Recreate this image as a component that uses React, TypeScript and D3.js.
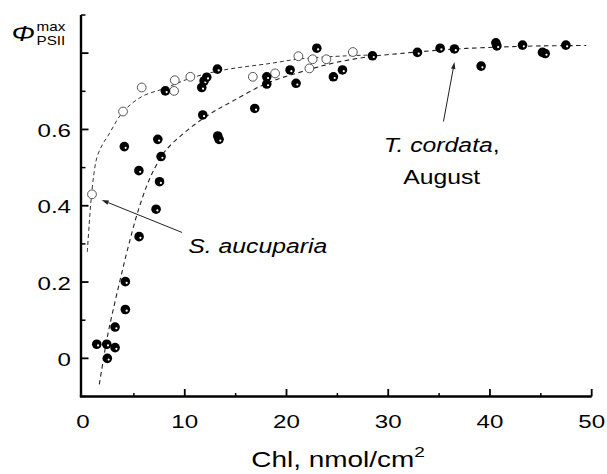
import React from "react";
import * as d3 from "d3";

// S. aucuparia (open circles): [Chl, PhiPSII max]
const aucupariaX = [0.88, 3.93, 5.77, 9.02, 8.95, 10.55, 16.69, 18.88, 21.17, 22.25, 22.57, 23.92, 26.52];
const aucupariaY = [0.43, 0.647, 0.71, 0.729, 0.701, 0.738, 0.738, 0.747, 0.792, 0.76, 0.784, 0.784, 0.803];

// T. cordata, August (filled circles)
const cordataX = [1.35, 2.33, 2.39, 3.15, 3.15, 4.16, 4.16, 5.51, 7.18, 7.52, 5.49, 7.67, 4.06, 7.35, 8.09,
  11.77, 13.24, 13.37, 11.67, 11.9, 12.16, 13.21, 16.88, 18.06, 18.06, 20.35, 20.94, 22.98, 24.61, 25.5,
  28.45, 32.87, 35.1, 36.51, 39.13, 40.58, 40.68, 43.2, 45.16, 45.43, 47.46];
const cordataY = [0.037, 0.037, 0.0, 0.028, 0.082, 0.128, 0.201, 0.319, 0.391, 0.463, 0.492, 0.529, 0.555, 0.574, 0.701,
  0.638, 0.583, 0.574, 0.71, 0.727, 0.737, 0.758, 0.655, 0.738, 0.719, 0.756, 0.721, 0.813, 0.738, 0.756,
  0.793, 0.802, 0.813, 0.811, 0.766, 0.827, 0.819, 0.821, 0.802, 0.799, 0.821];

// fitted curves
const aucupariaFitX = [0.42, 0.6, 0.79, 1.05, 1.38, 1.9, 2.49, 3.9, 5.77, 8.06, 10.52, 13.64, 18.39, 21.34, 25.93, 28.4];
const aucupariaFitY = [0.279, 0.35, 0.415, 0.48, 0.528, 0.56, 0.585, 0.645, 0.686, 0.708, 0.734, 0.755, 0.773, 0.785, 0.793, 0.795];
const cordataFitX = [1.6, 2.33, 2.65, 3.64, 4.45, 5.28, 6.26, 7.08, 8.06, 10.03, 12.32, 14.62, 18.06, 22.09, 24.95, 28.22, 31.17, 36.1, 41.0, 45.0, 49.46];
const cordataFitY = [-0.068, 0.048, 0.09, 0.205, 0.293, 0.375, 0.452, 0.5, 0.543, 0.593, 0.638, 0.673, 0.721, 0.756, 0.776, 0.791, 0.799, 0.81, 0.816, 0.819, 0.82];

const xMajorTicks = [10, 20, 30, 40, 50];
const xMinorTicks = [5, 15, 25, 35, 45];
const xTickLabels = [0, 10, 20, 30, 40, 50];
const yMajorTicks = [0, 0.2, 0.4, 0.6, 0.8];
const yMinorTicks = [-0.1, 0.1, 0.3, 0.5, 0.7, 0.9];
const yTickLabels = ["0", "0.2", "0.4", "0.6"];
const yTickLabelValues = [0, 0.2, 0.4, 0.6];

const W = 607;
const H = 474;
const SX = 1.27; // horizontal stretch of the original lettering
const FONT = "'Liberation Sans', Arial, Helvetica, sans-serif";

const x = d3.scaleLinear().domain([-0.2, 50]).range([81, 591.7]);
const y = d3.scaleLinear().domain([-0.1, 0.9]).range([396.5, 15]);

function T(props: any) {
  const { x: tx, y: ty, children, ...rest } = props;
  return (
    <text transform={`translate(${tx},${ty}) scale(${SX},1)`} fontFamily={FONT} fill="#000" {...rest}>
      {children}
    </text>
  );
}

export default function App() {
  const line = d3
    .line<[number, number]>()
    .x((d) => x(d[0]))
    .y((d) => y(d[1]))
    .curve(d3.curveCatmullRom.alpha(0.5));
  const aucFit = line(aucupariaFitX.map((v, i) => [v, aucupariaFitY[i]] as [number, number])) || "";
  const corFit = line(cordataFitX.map((v, i) => [v, cordataFitY[i]] as [number, number])) || "";

  const x0 = x(-0.2);
  const yb = y(-0.1);

  const arrow = (x1: number, y1: number, x2: number, y2: number) => {
    const px1 = x(x1), py1 = y(y1), px2 = x(x2), py2 = y(y2);
    const ang = Math.atan2(py2 - py1, px2 - px1);
    const L = 7, Wd = 2.2;
    const bx = px2 - L * Math.cos(ang), by = py2 - L * Math.sin(ang);
    const nx = -Math.sin(ang) * Wd, ny = Math.cos(ang) * Wd;
    return (
      <g>
        <line x1={px1} y1={py1} x2={bx} y2={by} stroke="#222" strokeWidth={1} />
        <polygon points={`${px2},${py2} ${bx + nx},${by + ny} ${bx - nx},${by - ny}`} fill="#222" />
      </g>
    );
  };

  return (
    <svg width={W} height={H} style={{ position: "absolute", left: 0, top: 0, background: "#fff" }}>
      <rect x={0} y={0} width={W} height={H} fill="#fff" />
      {/* fits */}
      <path d={aucFit} fill="none" stroke="#333" strokeWidth={1} strokeDasharray="4,3" />
      <path d={corFit} fill="none" stroke="#222" strokeWidth={1.1} strokeDasharray="4.5,3.5" />

      {/* open circles */}
      {aucupariaX.map((v, i) => (
        <circle key={"a" + i} cx={x(v)} cy={y(aucupariaY[i])} r={4.4} fill="#fff" stroke="#555" strokeWidth={1} />
      ))}
      {/* filled circles */}
      {cordataX.map((v, i) => (
        <g key={"c" + i}>
          <circle cx={x(v)} cy={y(cordataY[i])} r={4.8} fill="#000" />
          <circle cx={x(v) + 1.3} cy={y(cordataY[i]) + 1.2} r={1.1} fill="#fff" />
        </g>
      ))}

      {/* axes */}
      <line x1={x0} y1={y(0.9)} x2={x0} y2={yb} stroke="#000" strokeWidth={2.4} />
      <line x1={x0 - 1.2} y1={yb} x2={x(50)} y2={yb} stroke="#000" strokeWidth={2.4} />
      {xMajorTicks.map((t) => (
        <line key={"xm" + t} x1={x(t)} x2={x(t)} y1={yb} y2={yb - 7.5} stroke="#000" strokeWidth={1.8} />
      ))}
      {xMinorTicks.map((t) => (
        <line key={"xn" + t} x1={x(t)} x2={x(t)} y1={yb} y2={yb - 3.5} stroke="#000" strokeWidth={1.5} />
      ))}
      {yMajorTicks.map((t) => (
        <line key={"ym" + t} x1={x0} x2={x0 + 7.5} y1={y(t)} y2={y(t)} stroke="#000" strokeWidth={1.8} />
      ))}
      {yMinorTicks.map((t) => (
        <line key={"yn" + t} x1={x0} x2={x0 + 4.5} y1={y(t)} y2={y(t)} stroke="#000" strokeWidth={1.5} />
      ))}
      {xTickLabels.map((t) => (
        <T key={"xl" + t} x={x(t)} y={428} fontSize={19} textAnchor="middle">
          {t}
        </T>
      ))}
      {yTickLabelValues.map((t, i) => (
        <T key={"yl" + t} x={71} y={y(t) + 7.5} fontSize={19} textAnchor="end">
          {yTickLabels[i]}
        </T>
      ))}

      {/* axis titles */}
      <T x={338} y={466.5} fontSize={22} textAnchor="middle">
        Chl, nmol/cm<tspan fontSize={15} dy={-10}>2</tspan>
      </T>
      <T x={11.5} y={40.5} fontSize={22} fontStyle="italic">Φ</T>
      <T x={36.5} y={30.5} fontSize={12}>max</T>
      <T x={36.5} y={45} fontSize={12}>PSII</T>

      {/* annotations */}
      {arrow(35.43, 0.621, 36.51, 0.777)}
      <T x={x(35.25)} y={y(0.541)} fontSize={19.5} textAnchor="middle">
        <tspan fontStyle="italic">T. cordata</tspan>,
      </T>
      <T x={x(35.25)} y={y(0.457)} fontSize={19.5} textAnchor="middle">August</T>
      {arrow(9.73, 0.33, 1.84, 0.415)}
      <T x={x(10.35)} y={y(0.275)} fontSize={19.5} fontStyle="italic">S. aucuparia</T>
    </svg>
  );
}
